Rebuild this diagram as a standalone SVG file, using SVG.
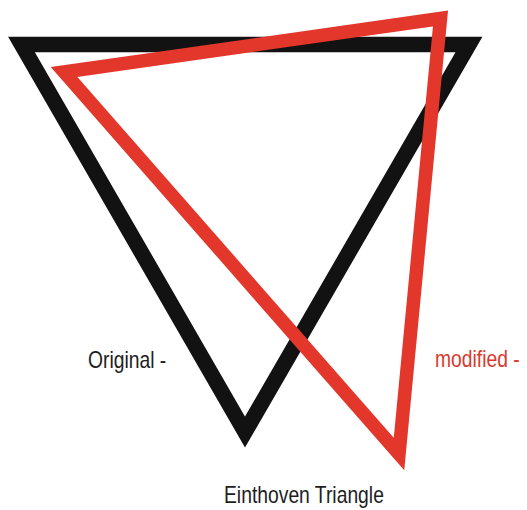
<svg xmlns="http://www.w3.org/2000/svg" width="527" height="510" viewBox="0 0 527 510">
<style>
.tri{fill:none;stroke-linejoin:miter;stroke-miterlimit:10}
.lbl{font-family:"Liberation Sans",Arial,sans-serif;font-size:23px}
</style>
<rect width="527" height="510" fill="#ffffff"/>
<g id="connectors">
<polygon id="original" class="tri" points="21.5,44.5 469,44.5 245,432" stroke="#121212" stroke-width="15.5"/>
<polygon id="modified" class="tri" points="64,72 440.5,18.5 399,454" stroke="#e3372b" stroke-width="13.5"/>
</g>
<g id="label-original" transform="translate(88,368) scale(0.84,1)"><text class="lbl" x="0" y="0" fill="#1e1e1e">Original -</text></g>
<g id="label-modified" transform="translate(435,367) scale(0.84,1)"><text class="lbl" x="0" y="0" fill="#d93a30">modified -</text></g>
<g id="label-title" transform="translate(224,503) scale(0.84,1)"><text class="lbl" x="0" y="0" fill="#1e1e1e">Einthoven Triangle</text></g>
</svg>
